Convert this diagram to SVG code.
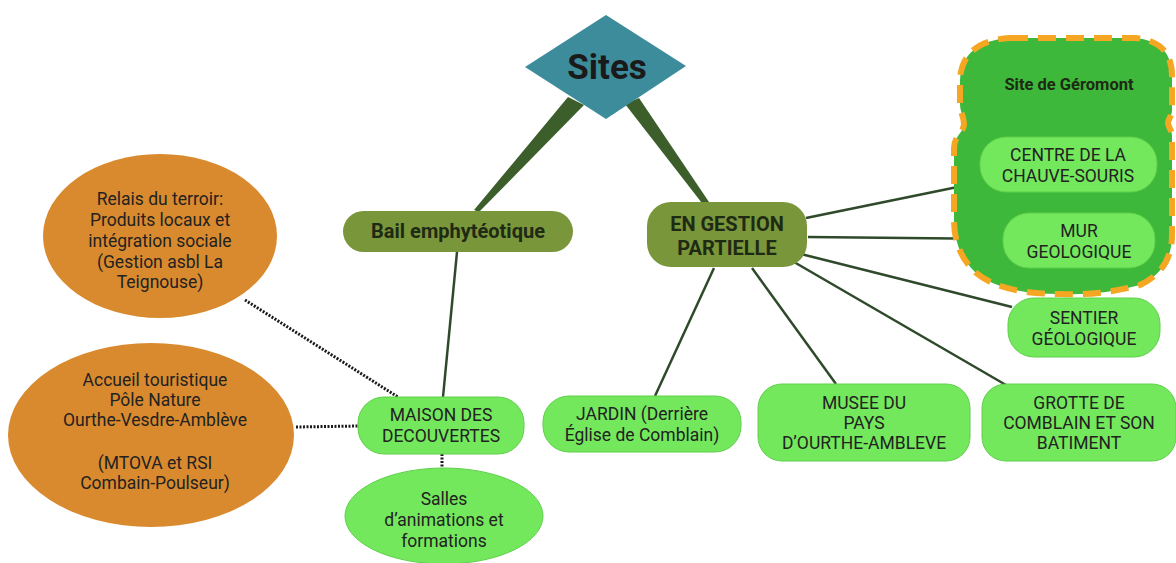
<svg xmlns="http://www.w3.org/2000/svg" width="1176" height="563" viewBox="0 0 1176 563">
<style>
text{font-family:Roboto,"Liberation Sans",sans-serif;fill:#222;text-anchor:middle}
.t{font-size:17.5px}
.b{font-size:20px;font-weight:bold;fill:#1e2a14}
.lg{fill:#74e85c;stroke:#5fcf4b;stroke-width:1}
.ol{fill:#7a963a}
.or{fill:#d98a2e}
.c{stroke:#2e4a2a;stroke-width:2.5;fill:none}
.d{stroke:#1a1a1a;stroke-width:3;stroke-dasharray:2 1.5;fill:none}
</style>
<rect width="1176" height="563" fill="#fff"/>
<g id="connectors">
<polygon points="568,97 584,105 479,212 474,210" fill="#3b5e2b"/>
<polygon points="625,104 639,98 711,205 705,207" fill="#3b5e2b"/>
<line class="c" x1="457" y1="252" x2="443" y2="397"/>
<line class="c" x1="806" y1="218" x2="982" y2="182"/>
<line class="c" x1="808" y1="237" x2="1004" y2="239"/>
<line class="c" x1="801" y1="254" x2="1012" y2="307"/>
<line class="c" x1="794" y1="262" x2="1006" y2="385"/>
<line class="c" x1="752" y1="268" x2="836" y2="384"/>
<line class="c" x1="714" y1="268" x2="655" y2="396"/>
<line class="d" x1="245" y1="300" x2="398" y2="397"/>
<line class="d" x1="296" y1="427" x2="359" y2="426"/>
<line class="d" x1="442" y1="454" x2="442" y2="469"/>
</g>
<g id="geromont">
<path d="M1010 38 L1135 38 Q1172 41 1172 76 L1172 110 C1172 116 1168 119 1168 123 C1168 127 1172 130 1172 136 L1172 235 Q1172 270 1140 285 Q1100 296 1060 294 Q1000 294 975 272 Q954 252 954 220 L954 148 C954 136 964 132 964 124 C964 117 960 112 960 104 L960 80 Q962 41 1010 38 Z" fill="#3db83a" stroke="#f5a623" stroke-width="6" stroke-dasharray="18 10"/>
<text x="1069" y="90" style="font-size:16.5px;font-weight:bold;fill:#1e2a14">Site de Géromont</text>
</g>
<g id="sites">
<polygon points="606,15 686,66 606,119 525,67" fill="#3d8c9c"/>
<text x="607" y="79" style="font-size:35px;font-weight:bold;fill:#1a1a1a">Sites</text>
</g>
<g id="bail">
<rect class="ol" x="343" y="211" width="230" height="41" rx="20.5"/>
<text class="b" x="458" y="238">Bail emphytéotique</text>
</g>
<g id="engestion">
<rect class="ol" x="647" y="202" width="160" height="65" rx="24"/>
<text class="b" x="727" y="231">EN GESTION</text>
<text class="b" x="727" y="255">PARTIELLE</text>
</g>
<g id="centre">
<rect class="lg" x="980" y="137" width="177" height="55" rx="26"/>
<text class="t" x="1068" y="161">CENTRE DE LA</text>
<text class="t" x="1068" y="182">CHAUVE-SOURIS</text>
</g>
<g id="mur">
<rect class="lg" x="1003" y="213" width="152" height="55" rx="26"/>
<text class="t" x="1079" y="237">MUR</text>
<text class="t" x="1079" y="258">GEOLOGIQUE</text>
</g>
<g id="sentier">
<rect class="lg" x="1008" y="298" width="152" height="59" rx="26"/>
<text class="t" x="1084" y="324">SENTIER</text>
<text class="t" x="1084" y="345">GÉOLOGIQUE</text>
</g>
<g id="grotte">
<rect class="lg" x="982" y="384" width="194" height="77" rx="24"/>
<text class="t" x="1079" y="409">GROTTE DE</text>
<text class="t" x="1079" y="429">COMBLAIN ET SON</text>
<text class="t" x="1079" y="449">BATIMENT</text>
</g>
<g id="musee">
<rect class="lg" x="758" y="384" width="212" height="77" rx="24"/>
<text class="t" x="864" y="409">MUSEE DU</text>
<text class="t" x="864" y="429">PAYS</text>
<text class="t" x="864" y="449">D’OURTHE-AMBLEVE</text>
</g>
<g id="jardin">
<rect class="lg" x="543" y="396" width="198" height="56" rx="26"/>
<text class="t" x="642" y="420">JARDIN (Derrière</text>
<text class="t" x="642" y="441">Église de Comblain)</text>
</g>
<g id="maison">
<rect class="lg" x="358" y="397" width="166" height="57" rx="26"/>
<text class="t" x="441" y="421">MAISON DES</text>
<text class="t" x="441" y="442">DECOUVERTES</text>
</g>
<g id="salles">
<ellipse class="lg" cx="444" cy="516" rx="99" ry="48"/>
<text class="t" x="444" y="505">Salles</text>
<text class="t" x="444" y="526">d’animations et</text>
<text class="t" x="444" y="547">formations</text>
</g>
<g id="relais">
<ellipse class="or" cx="160" cy="236" rx="117" ry="82"/>
<text class="t" x="160" y="205">Relais du terroir:</text>
<text class="t" x="160" y="226">Produits locaux et</text>
<text class="t" x="160" y="247">intégration sociale</text>
<text class="t" x="160" y="268">(Gestion asbl La</text>
<text class="t" x="160" y="288">Teignouse)</text>
</g>
<g id="accueil">
<ellipse class="or" cx="151" cy="435" rx="143" ry="92"/>
<text class="t" x="155" y="386">Accueil touristique</text>
<text class="t" x="155" y="406">Pôle Nature</text>
<text class="t" x="155" y="426">Ourthe-Vesdre-Amblève</text>
<text class="t" x="155" y="469">(MTOVA et RSI</text>
<text class="t" x="155" y="489">Combain-Poulseur)</text>
</g>
</svg>
